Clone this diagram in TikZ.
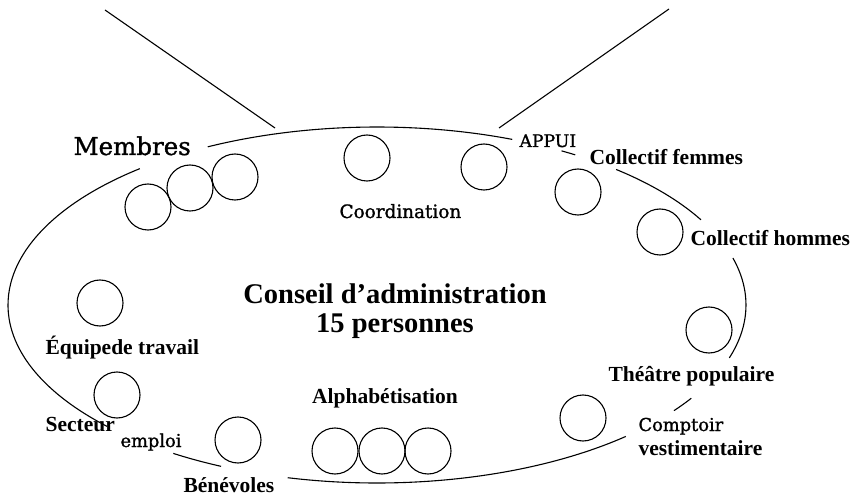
\documentclass[tikz,border=0pt]{standalone}
\usepackage{fontspec}
\usepackage{tikz}
\usetikzlibrary{calc}
\newfontfamily\timesfont{Liberation Serif}
\newfontfamily\centfont[FakeBold=1.2]{DejaVu Serif}
\tikzset{
  every picture/.style={
    line width=1.1pt,
    x=1pt, y=1pt
  },
  rond/.style={
    circle, draw, minimum size=46pt,
    inner sep=0pt
  },
  gras/.style={
    font=\timesfont\bfseries\fontsize{21.5}{24}\selectfont,
    inner sep=0pt, anchor=base west
  },
  maigre/.style={
    font=\centfont\fontsize{17.8}{20}\selectfont,
    inner sep=0pt, anchor=base west
  }
}

\begin{document}
\begin{tikzpicture}[
      titre/.style={font=\timesfont\bfseries\fontsize{28.5}{30}\selectfont,inner sep=0pt,anchor=base},
      arcell/.style={x radius=369, y radius=178}
    ]
      \useasboundingbox (0,0) rectangle (854,496);
      \coordinate (c) at (377,191);
      \draw ($(c)+(68.5:369 and 178)$) arc[arcell,start angle=68.5,end angle=117.3];
      \draw ($(c)+(130:369 and 178)$) arc[arcell,start angle=130,end angle=223];
      \draw ($(c)+(236.5:369 and 178)$) arc[arcell,start angle=236.5,end angle=245];
      \draw ($(c)+(256:369 and 178)$) arc[arcell,start angle=256,end angle=312.4];
      \draw ($(c)+(323.6:369 and 178)$) arc[arcell,start angle=323.6,end angle=328.4];
      \draw ($(c)+(342.7:369 and 178)$) arc[arcell,start angle=342.7,end angle=375.3];
      \draw ($(c)+(28.6:369 and 178)$) arc[arcell,start angle=28.6,end angle=49.6];
      \draw ($(c)+(57.5:369 and 178)$) arc[arcell,start angle=57.5,end angle=60];
      \coordinate (hg) at (105,486);
      \coordinate (bg) at (275,368);
      \coordinate (hd) at (669,487);
      \coordinate (bd) at (499,368);
      \draw (hg) -- (bg);
      \draw (bd) -- (hd);
      \node [rond] (m1) at (148,289) {};
      \node [rond] (m2) at (190,308) {};
      \node [rond] (m3) at (235,319) {};
      \node [rond] (coord) at (367,338) {};
      \node [rond] (appui) at (484,329) {};
      \node [rond] (femmes) at (578,304) {};
      \node [rond] (hommes) at (660,264) {};
      \node [rond] (theatre) at (709,166) {};
      \node [rond] (comptoir) at (583,78) {};
      \node [rond] (a1) at (335,45) {};
      \node [rond] (a2) at (382,45) {};
      \node [rond] (a3) at (428,45) {};
      \node [rond] (benev) at (238,56) {};
      \node [rond] (secteur) at (117,101) {};
      \node [rond] (equipe) at (100,193) {};
      \node [maigre,font=\centfont\fontsize{24.5}{28}\selectfont] (lmembres) at (73,341) {Membres};
      \node [maigre,font=\centfont\fontsize{18.4}{20}\selectfont] (lcoord) at (339,278) {Coordination};
      \node [maigre,font=\centfont\fontsize{17.2}{20}\selectfont] (lappui) at (519,349) {APPUI};
      \node [gras] (lfemmes) at (589,331) {Collectif femmes};
      \node [gras] (lhommes) at (690,250) {Collectif hommes};
      \node [titre] (lconseil) at (395,193) {Conseil d’administration};
      \node [titre] (lpers) at (395,164) {15 personnes};
      \node [gras] (lequipe) at (45,142) {Équipede travail};
      \node [gras] (lsecteur) at (45,65) {Secteur};
      \node [maigre] (lemploi) at (120,49) {emploi};
      \node [gras] (lbenev) at (183,4) {Bénévoles};
      \node [gras,anchor=base] (lalpha) at (385,93) {Alphabétisation};
      \node [gras] (ltheatre) at (608,115) {Théâtre populaire};
      \node [maigre] (lcomptoir) at (638,65) {Comptoir};
      \node [gras] (lvest) at (638,41) {vestimentaire};
    \end{tikzpicture}
\end{document}
